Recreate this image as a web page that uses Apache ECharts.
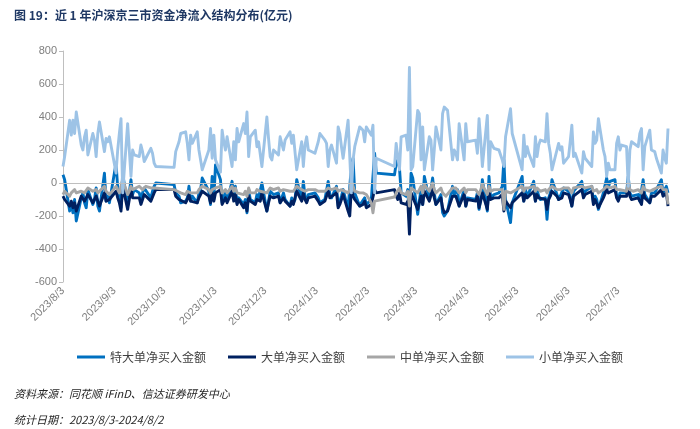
<!DOCTYPE html>
<html>
<head>
<meta charset="utf-8">
<script src="https://cdn.jsdelivr.net/npm/echarts/dist/echarts.min.js"></script>
<style>
html,body{margin:0;padding:0;background:#fff;}
#chart{width:700px;height:429px;}
</style>
</head>
<body>
<div id="chart"></div>
<script>
// ---- data ----
const startDate = '2023-08-03';
const endDate = '2024-08-02';
const holidays = ['2023-09-29','2023-10-02','2023-10-03','2023-10-04','2023-10-05','2023-10-06',
  '2024-01-01','2024-02-09','2024-02-12','2024-02-13','2024-02-14','2024-02-15','2024-02-16',
  '2024-04-04','2024-04-05','2024-05-01','2024-05-02','2024-05-03','2024-06-10'];
const tickLabels = ['2023/8/3','2023/9/3','2023/10/3','2023/11/3','2023/12/3','2024/1/3','2024/2/3','2024/3/3','2024/4/3','2024/5/3','2024/6/3','2024/7/3'];
const seriesNames = ['特大单净买入金额','大单净买入金额','中单净买入金额','小单净买入金额'];

// 特大单净买入金额
const xlOrder = [
 50,20,-170,-120,-180,-100,-230,-90,-60,-120,-150,-40,-130,-100,-30,-140,-170,60,-110,-80,-120,
 -120,120,-30,-100,-150,60,-140,-60,20,-70,-40,-60,-100,-60,-30,-40,-90,-50,-20,0,
 -10,-60,-50,-80,-120,-110,-90,-20,-110,-80,-120,-60,-40,30,20,-50,-130,
 40,-100,110,20,-120,-90,-50,-110,10,-80,-20,-120,-90,-130,-100,-180,-40,-100,-120,-70,-90,-100,
 0,-170,-110,-50,-40,-70,-60,-120,-110,-60,-100,-140,-90,-120,-100,20,-100,10,-80,-110,-70,
 -60,-50,-90,-120,-100,-90,10,-70,-90,-20,-140,-110,-80,-40,-160,-170,110,150,-60,-140,-120,-130,
 -90,-130,-100,40,180,60,50,120,140,90,-60,-80,-40,-230,60,
 30,-190,-180,-30,-130,40,-100,-90,30,-60,-130,-70,-180,-200,-190,-170,-20,-70,-60,-40,-140,
 -40,-140,-90,-100,-60,-160,-100,20,-170,40,-90,-80,-70,-60,-50,-20,140,-100,-240,-120,
 40,-110,-40,-80,-60,10,-110,-40,-80,-100,-90,-220,-90,-60,20,-70,-100,-80,-90,-30,
 -50,-90,-140,-50,-60,10,-70,-50,-40,-20,-120,-80,-100,-160,-60,-50,30,-30,10,
 20,-80,-100,-60,-70,-60,40,-60,-80,-90,-70,-110,-120,20,-70,-120,-60,-70,-60,-40,20,-60,-40,
 -20,-60
];
// 大单净买入金额
const lgOrder = [
 -80,-100,-140,-110,-150,-120,-170,-80,-90,-110,-120,-70,-120,-100,-80,-110,-140,-60,-110,-100,-100,
 -110,-50,-90,-120,-170,-20,-160,-100,-30,-90,-80,-90,-130,-100,-70,-80,-110,-100,-60,-40,
 -40,-80,-90,-100,-110,-120,-100,-70,-110,-100,-120,-90,-80,-50,-60,-80,-120,
 -60,-110,-60,-40,-130,-110,-90,-120,-50,-110,-70,-130,-100,-150,-120,-170,-80,-110,-130,-100,-110,-110,
 -60,-170,-120,-80,-70,-90,-80,-120,-120,-90,-110,-140,-110,-130,-120,-50,-110,-60,-100,-120,-90,
 -80,-90,-110,-130,-110,-100,-50,-90,-100,-60,-150,-130,-100,-70,-170,-200,-30,-80,-100,-140,-140,-130,
 -110,-150,-130,-130,-40,-60,-40,-80,-100,-60,-120,-130,-110,-310,-60,
 -70,-160,-150,-80,-130,-50,-110,-110,-40,-90,-130,-90,-150,-180,-170,-170,-80,-90,-80,-70,-140,
 -70,-140,-100,-110,-80,-150,-110,-60,-160,-50,-100,-100,-90,-90,-80,-70,-170,-110,-150,-120,
 -60,-110,-70,-90,-80,-50,-110,-70,-90,-100,-100,-160,-100,-80,-50,-80,-100,-90,-90,-60,
 -70,-100,-140,-80,-80,-40,-90,-70,-70,-50,-130,-100,-110,-150,-90,-80,-40,-60,-50,
 -40,-90,-110,-80,-90,-80,-10,-80,-100,-100,-90,-110,-130,-50,-90,-120,-80,-90,-80,-70,-40,-80,-70,
 -60,-140
];
// 中单净买入金额
const mdOrder = [
 -70,-50,-80,-60,-70,-40,-60,-50,-40,-60,-70,-30,-50,-60,-40,-60,-70,-20,-50,-60,-70,
 -60,-20,-40,-60,-70,20,-70,-50,-20,-40,-40,-20,-30,-40,-30,-20,-30,-40,-30,-40,
 -40,-40,-50,-60,-60,-70,-50,-40,-60,-50,-60,-40,-50,-20,-10,-40,-60,
 -40,-50,-30,-20,-60,-50,-40,-60,-20,-50,-30,-60,-50,-70,-50,-80,-30,-60,-60,-40,-50,-50,
 -40,-60,-50,-30,-30,-40,-30,-50,-50,-40,-50,-50,-40,-50,-60,-20,-40,-30,-50,-50,-40,
 -40,-40,-50,-50,-50,-50,-30,-40,-40,-30,-50,-60,-40,-30,-60,-40,10,-20,-50,-60,-70,-60,
 -60,-70,-120,-180,-110,-120,-85,-60,-50,-30,-60,-70,-50,-140,-30,
 -30,-60,-50,-20,-60,-10,-50,-40,0,-40,-60,-30,-60,-70,-80,-70,-30,-40,-30,-30,-60,
 -30,-60,-40,-40,-30,-70,-40,-10,-70,-20,-50,-40,-40,-40,-30,-40,-160,-50,-60,-50,
 -20,-50,-30,-40,-30,-20,-50,-30,-40,-50,-40,-60,-40,-30,-20,-40,-40,-40,-50,-30,
 -30,-40,-60,-30,-30,-20,-30,-30,-20,-20,-50,-40,-40,-60,-40,-30,-20,-30,-30,
 -20,-40,-50,-40,-40,-50,0,-40,-40,-50,-40,-50,-60,-20,-40,-50,-40,-40,-40,-30,-20,-40,-40,
 -40,-130
];
// 小单净买入金额
const smOrder = [
 100,160,380,290,380,300,430,230,200,280,320,170,300,260,160,300,370,190,270,250,280,
 280,60,200,300,390,-60,360,200,40,200,170,160,230,190,130,150,210,180,120,100,
 95,190,200,250,300,310,240,140,290,240,310,200,200,80,80,200,330,
 150,290,140,65,320,250,200,280,100,250,140,330,250,360,300,430,160,280,320,220,250,260,
 100,400,270,160,140,200,170,280,280,200,260,310,240,290,280,80,250,100,230,280,200,
 180,180,250,300,260,240,100,200,230,120,340,300,220,150,380,390,-60,140,220,340,330,320,
 250,340,290,350,-60,150,100,240,240,80,280,290,200,700,80,
 100,440,420,140,340,80,280,260,80,200,340,200,420,460,460,440,140,200,180,140,360,
 140,360,250,260,180,390,260,100,410,80,250,230,210,200,170,140,100,280,450,300,
 80,290,160,220,180,100,280,160,230,260,250,420,240,180,80,200,240,200,220,120,
 160,250,350,160,180,60,190,150,140,100,310,240,260,390,200,160,40,120,80,
 80,240,280,200,230,220,-20,200,250,260,220,300,330,80,220,320,200,200,190,150,60,200,150,
 120,330
];

// ---- helpers ----
const DAY = 86400000;
function parseYMD(s){ const p = s.split(/[\/-]/).map(Number); return new Date(p[0], p[1]-1, p[2]).getTime(); }
const t0 = parseYMD(startDate);
function dayIndex(t){ return Math.round((t - t0) / DAY); }

const holidaySet = new Set(holidays.map(parseYMD));
const tradingDays = [];
(function(){
  const end = parseYMD(endDate);
  const d = new Date(t0);
  while (d.getTime() <= end) {
    const wd = d.getDay();
    if (wd !== 0 && wd !== 6 && !holidaySet.has(d.getTime())) tradingDays.push(dayIndex(d.getTime()));
    d.setDate(d.getDate() + 1);
  }
})();

const tickValues = tickLabels.map(l => dayIndex(parseYMD(l)));
const labelMap = {};
tickLabels.forEach((l, i) => { labelMap[tickValues[i]] = l; });

function pairs(vals){ return vals.map((v, i) => [tradingDays[i], v]); }

const colors = ['#0070C0', '#002060', '#A6A6A6', '#9DC3E6'];
const valueArrays = [xlOrder, lgOrder, mdOrder, smOrder];

const chart = echarts.init(document.getElementById('chart'), null, {renderer: 'canvas'});

const series = seriesNames.map((name, i) => {
  const s = {
    name: name,
    type: 'line',
    data: pairs(valueArrays[i]),
    showSymbol: false,
    symbol: 'none',
    lineStyle: { width: 2.9, color: colors[i], join: 'round' },
    itemStyle: { color: colors[i] },
    emphasis: { disabled: true },
    animation: false
  };
  if (i === 0) {
    s.markLine = {
      silent: true, symbol: 'none', animation: false,
      label: { show: false },
      lineStyle: { color: '#BFBFBF', width: 1.2, type: 'solid' },
      data: [{ yAxis: 0 }]
    };
  }
  return s;
});

const option = {
  backgroundColor: '#ffffff',
  animation: false,
  grid: { left: 63, right: 32, top: 51, bottom: 147, containLabel: false },
  xAxis: {
    type: 'value',
    min: 0,
    max: dayIndex(parseYMD(endDate)),
    axisLine: { show: false },
    axisTick: { show: false },
    splitLine: { show: false },
    axisLabel: {
      customValues: tickValues,
      formatter: function (v) { return labelMap[v] || ''; },
      rotate: 45,
      color: '#7F7F7F',
      fontSize: 11,
      fontFamily: 'Liberation Sans, Arial, sans-serif',
      margin: 7,
      hideOverlap: false
    }
  },
  yAxis: {
    type: 'value',
    min: -600, max: 800, interval: 200,
    axisLine: { show: true, lineStyle: { color: '#BFBFBF', width: 1 } },
    axisTick: { show: true, length: 4, lineStyle: { color: '#BFBFBF' } },
    splitLine: { show: false },
    axisLabel: { color: '#7F7F7F', fontSize: 11, fontFamily: 'Liberation Sans, Arial, sans-serif', margin: 6 }
  },
  legend: {
    top: 346,
    left: 'center',
    icon: 'rect',
    itemWidth: 28,
    itemHeight: 3,
    itemGap: 22,
    textStyle: { fontSize: 12, color: '#404040', fontFamily: 'Noto Sans CJK SC' },
    data: seriesNames
  },
  graphic: [
    { type: 'text', left: 14, top: 9, style: { text: '图 19：近 1 年沪深京三市资金净流入结构分布(亿元)', fill: '#1F3864', font: 'bold 12px "Noto Sans CJK SC", sans-serif' } },
    { type: 'text', left: 14, top: 388, style: { text: '资料来源：同花顺 iFinD、信达证券研发中心', fill: '#262626', font: 'italic 11px "Noto Sans CJK SC", sans-serif' } },
    { type: 'text', left: 14, top: 414, style: { text: '统计日期：2023/8/3-2024/8/2', fill: '#262626', font: 'italic 11px "Noto Sans CJK SC", sans-serif' } }
  ],
  series: series
};
chart.setOption(option);
</script>
</body>
</html>
